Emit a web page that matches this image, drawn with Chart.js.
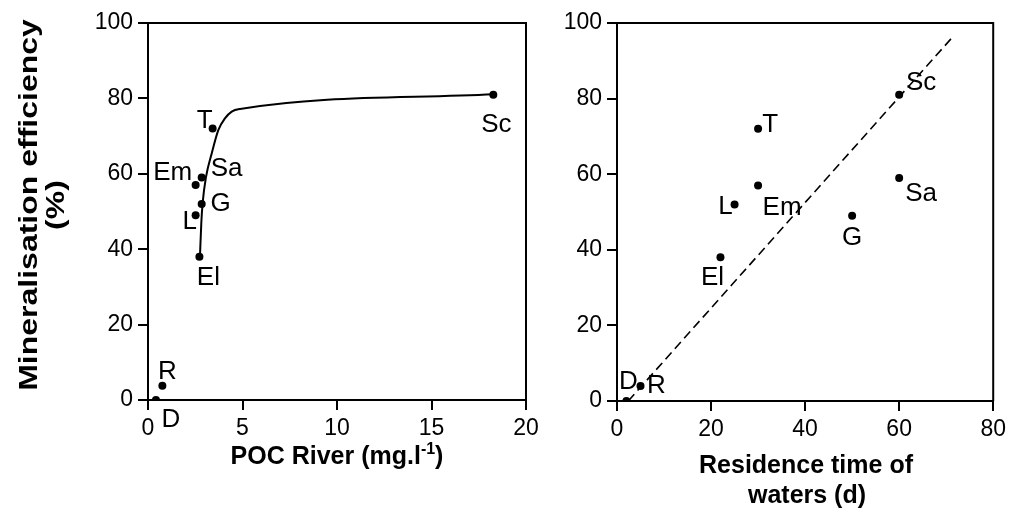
<!DOCTYPE html>
<html>
<head>
<meta charset="utf-8">
<script src="https://cdn.jsdelivr.net/npm/chart.js@4/dist/chart.umd.min.js"></script>
<style>
  html, body { margin: 0; padding: 0; background: #fff; }
  #wrap { position: relative; width: 1011px; height: 528px; }
  .box { position: absolute; top: 0; height: 528px; }
  #left { left: 0; width: 560px; }
  #right { left: 560px; width: 451px; }
</style>
</head>
<body>
<div id="wrap">
  <div class="box" id="left"><canvas id="pocChart"></canvas></div>
  <div class="box" id="right"><canvas id="resChart"></canvas></div>
</div>
<script>
// sampling sites
const sites = ["D", "R", "El", "L", "G", "Em", "Sa", "T", "Sc"];

// left panel: POC river (mg/l) vs mineralisation efficiency (%)
const pocRiver = [0.42, 0.76, 2.72, 2.52, 2.84, 2.52, 2.84, 3.42, 18.27];
const effPoc   = [0, 3.8, 38, 49, 52, 57, 59, 72, 81];
// fitted curve
const curveX = [2.75, 2.82, 2.89, 3.07, 3.37, 3.72, 4.07, 4.43, 4.87, 18.27];
const curveY = [38.2, 46.9, 52.2, 59.2, 65.4, 71.6, 74.7, 76.5, 77.2, 81.1];

// right panel: residence time of waters (d)
const residence = [2, 5, 22, 25, 50, 30, 60, 30, 60];
const effRes    = [0, 4, 38, 52, 49, 57, 59, 72, 81];
// dashed regression line ends
const regX = [2.4, 71.3];
const regY = [0, 96.2];

// tick labels
const effTicks = [0, 20, 40, 60, 80, 100];
const pocTicks = [0, 5, 10, 15, 20];
const resTicks = [0, 20, 40, 60, 80];

// label offsets (px) from each point
const leftLabelPos = {
    D: [15, 20], R: [5, -14], El: [9, 21], L: [-6, 7], G: [19, 0],
    Em: [-23, -12], Sa: [25, -9], T: [-8, -8], Sc: [3, 30]
};
const rightLabelPos = {
    D: [2, -19], R: [16, 0], El: [-8, 20], L: [-9, 2], G: [0, 22],
    Em: [24, 22], Sa: [22, 16], T: [12, -4], Sc: [22, -12]
};

const FONT = "'Liberation Sans', Arial, sans-serif";

function axis(min, max, list, fixSize, isX) {
    return {
        type: "linear",
        min: min,
        max: max,
        afterBuildTicks: s => { s.ticks = list.map(v => ({ value: v })); },
        afterFit: s => { if (isX) s.height = fixSize; else s.width = fixSize; },
        ticks: {
            color: "#000",
            font: { family: FONT, size: 23 },
            padding: 5,
            maxRotation: 0,
            autoSkip: false
        },
        grid: {
            drawOnChartArea: false,
            drawTicks: true,
            tickLength: 10,
            color: "#000",
            lineWidth: 2
        },
        border: { display: true, color: "#000", width: 2 }
    };
}

// box top + right
const frame = {
    id: "frame",
    afterDraw(chart) {
        const a = chart.chartArea, c = chart.ctx;
        c.save();
        c.strokeStyle = "#000";
        c.lineWidth = 2;
        c.beginPath();
        c.moveTo(a.left, a.top);
        c.lineTo(a.right, a.top);
        c.lineTo(a.right, a.bottom);
        c.stroke();
        c.restore();
    }
};

// site names next to points
const siteLabels = {
    id: "siteLabels",
    afterDatasetsDraw(chart, args, opts) {
        const c = chart.ctx;
        const meta = chart.getDatasetMeta(0);
        c.save();
        c.fillStyle = "#000";
        c.font = "26px " + FONT;
        c.textAlign = "center";
        c.textBaseline = "middle";
        meta.data.forEach((p, i) => {
            const off = opts.pos[sites[i]];
            c.fillText(sites[i], p.x + off[0], p.y + off[1]);
        });
        c.restore();
    }
};

const leftTitles = {
    id: "leftTitles",
    afterDraw(chart) {
        const c = chart.ctx;
        c.save();
        c.fillStyle = "#000";
        c.textAlign = "center";
        c.textBaseline = "middle";
        c.font = "bold 25px " + FONT;
        // y title, two lines
        [["Mineralisation efficiency", 30], ["(%)", 57]].forEach(([t, x]) => {
            c.save();
            c.translate(x, 205);
            c.rotate(-Math.PI / 2);
            c.scale(1.28, 1);
            c.fillText(t, 0, 0);
            c.restore();
        });
        // x title with superscript
        c.textAlign = "left";
        c.textBaseline = "alphabetic";
        const main = "POC River (mg.l", sup = "-1", end = ")";
        c.font = "bold 25px " + FONT;
        const w1 = c.measureText(main).width, w3 = c.measureText(end).width;
        c.font = "bold 16px " + FONT;
        const w2 = c.measureText(sup).width;
        let x = 337 - (w1 + w2 + w3) / 2;
        const base = 464;
        c.font = "bold 25px " + FONT;
        c.fillText(main, x, base);
        x += w1;
        c.font = "bold 16px " + FONT;
        c.fillText(sup, x, base - 10);
        x += w2;
        c.font = "bold 25px " + FONT;
        c.fillText(end, x, base);
        c.restore();
    }
};

const rightTitles = {
    id: "rightTitles",
    afterDraw(chart) {
        const c = chart.ctx;
        c.save();
        c.fillStyle = "#000";
        c.textAlign = "center";
        c.textBaseline = "middle";
        c.font = "bold 25px " + FONT;
        c.fillText("Residence time of", 246, 466);
        c.fillText("waters (d)", 247, 496);
        c.restore();
    }
};

const pts = (xs, ys) => xs.map((x, i) => ({ x: x, y: ys[i] }));

new Chart(document.getElementById("pocChart"), {
    type: "scatter",
    data: {
        datasets: [
            {
                data: pts(pocRiver, effPoc),
                pointRadius: 4,
                pointBackgroundColor: "#000",
                pointBorderWidth: 0,
                showLine: false
            },
            {
                data: pts(curveX, curveY),
                showLine: true,
                pointRadius: 0,
                borderColor: "#000",
                borderWidth: 2,
                cubicInterpolationMode: "monotone"
            }
        ]
    },
    options: {
        responsive: true,
        maintainAspectRatio: false,
        animation: false,
        layout: { padding: { left: 0, top: 23, right: 34, bottom: 88 } },
        scales: {
            x: axis(0, 20, pocTicks, 40, true),
            y: axis(0, 100, effTicks, 148, false)
        },
        plugins: {
            legend: { display: false },
            tooltip: { enabled: false },
            siteLabels: { pos: leftLabelPos }
        }
    },
    plugins: [frame, siteLabels, leftTitles]
});

new Chart(document.getElementById("resChart"), {
    type: "scatter",
    data: {
        datasets: [
            {
                data: pts(residence, effRes),
                pointRadius: 4,
                pointBackgroundColor: "#000",
                pointBorderWidth: 0,
                showLine: false
            },
            {
                data: pts(regX, regY),
                showLine: true,
                pointRadius: 0,
                borderColor: "#000",
                borderWidth: 1.6,
                borderDash: [9, 5]
            }
        ]
    },
    options: {
        responsive: true,
        maintainAspectRatio: false,
        animation: false,
        layout: { padding: { left: 0, top: 23, right: 16, bottom: 87 } },
        scales: {
            x: axis(0, 80, resTicks, 40, true),
            y: axis(0, 100, effTicks, 57, false)
        },
        plugins: {
            legend: { display: false },
            tooltip: { enabled: false },
            siteLabels: { pos: rightLabelPos }
        }
    },
    plugins: [frame, siteLabels, rightTitles]
});
</script>
</body>
</html>
